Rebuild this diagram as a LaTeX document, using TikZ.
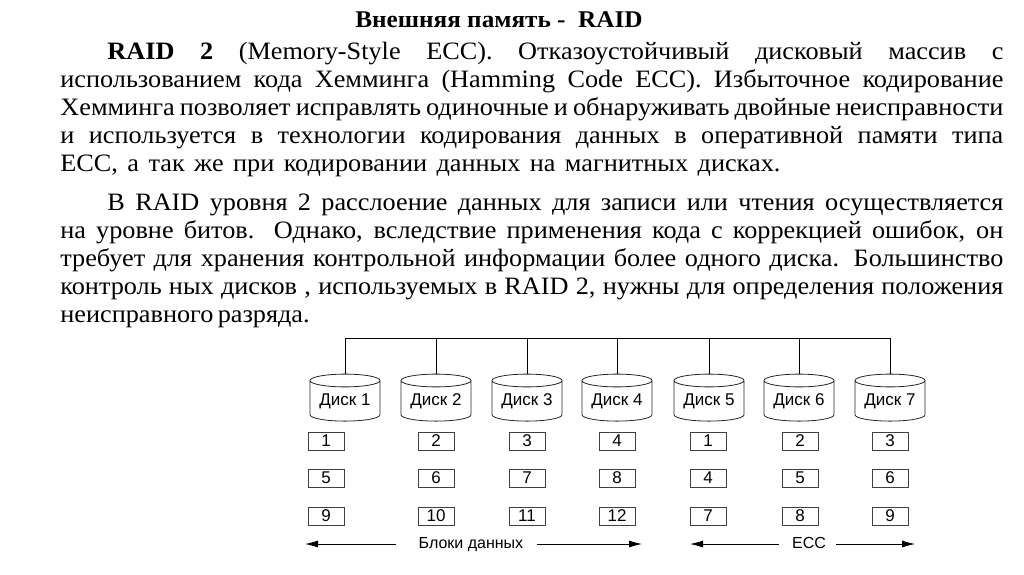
\documentclass[tikz,border=0pt]{standalone}
\usepackage{fontspec}
\setmainfont{Liberation Serif}[FakeStretch=1.05]
\newfontfamily\diagfont{Liberation Sans}
\usetikzlibrary{shapes.geometric,arrows.meta}

\tikzset{
  disk/.style={cylinder, shape border rotate=90, draw=black!85, aspect=0.25,
    minimum width=70pt, minimum height=47pt, inner sep=0pt,
    text height=12pt, text depth=3.5pt,
    font=\diagfont\fontsize{17}{17}\selectfont},
  blk/.style={draw=black!75, minimum width=36pt, minimum height=18pt, inner sep=0pt,
    text height=12pt, text depth=0.5pt,
    font=\diagfont\fontsize{17}{17}\selectfont},
  txtline/.style={anchor=base west, inner sep=0pt, font=\fontsize{25}{28}\selectfont},
  caption/.style={inner sep=0pt, text height=11.5pt, text depth=3.5pt,
    font=\diagfont\fontsize{16}{16}\selectfont},
  tip/.style={-{Latex[length=13pt,width=7pt]}},
}
\newcommand{\jline}[2]{\makebox[#1pt][s]{#2}}

\begin{document}
\begin{tikzpicture}[x=1pt, y=-1pt, line width=0.8pt]
    \useasboundingbox[fill=white] (0,0) rectangle (1024,574);

    % title
    \node[inner sep=0pt, anchor=base, font=\bfseries\fontsize{24}{28}\selectfont] (title) at (499,27) {Внешняя память -\ \ RAID};

    % first paragraph
    \node[txtline] (pa1) at (107,59) {\jline{896}{\textbf{RAID 2} (Memory-Style ECC). Отказоустойчивый дисковый массив с}};
    \node[txtline] (pa2) at (60,87) {\jline{943}{использованием кода Хемминга (Hamming Code ECC). Избыточное кодирование}};
    \node[txtline] (pa3) at (60,115) {\jline{943}{Хемминга позволяет исправлять одиночные и обнаруживать двойные неисправности}};
    \node[txtline] (pa4) at (60,143) {\jline{943}{и используется в технологии кодирования данных в оперативной памяти типа}};
    \node[txtline] (pa5) at (60,171) {\jline{720}{ECC, а так же при кодировании данных на магнитных дисках.}};

    % second paragraph
    \node[txtline] (pb1) at (107,210) {\jline{896}{В RAID уровня 2 расслоение данных для записи или чтения осуществляется}};
    \node[txtline] (pb2) at (60,238) {\jline{943}{на уровне битов. Однако, вследствие применения кода с коррекцией ошибок, он}};
    \node[txtline] (pb3) at (60,266) {\jline{943}{требует для хранения контрольной информации более одного диска. Большинство}};
    \node[txtline] (pb4) at (60,294) {\jline{943}{контроль ных дисков , используемых в RAID 2, нужны для определения положения}};
    \node[txtline] (pb5) at (60,322) {\jline{230}{неисправного разряда.}};

    % disks
    \foreach \n/\x in {1/345, 2/436, 3/527, 4/617, 5/709, 6/799, 7/890}
      \node[disk] (d\n) at (\x,401) {Диск \n};

    % bus
    \coordinate (bus) at (0,338);
    \draw (d1.top) |- (bus -| d7.top) -- (d7.top);
    \foreach \n in {2,...,6}
      \draw (d\n.top) -- (d\n.top |- bus);

    % data blocks
    \foreach \c/\x in {1/326, 2/436, 3/527, 4/617}
      \foreach \r/\y in {0/441, 1/478, 2/516}
        \pgfmathtruncatemacro{\k}{4*\r+\c}
        \node[blk] (b\k) at (\x,\y) {\k};

    % ECC blocks
    \foreach \c/\x in {1/708, 2/800, 3/890}
      \foreach \r/\y in {0/441, 1/478, 2/516}
        \pgfmathtruncatemacro{\k}{3*\r+\c}
        \node[blk] (e\k) at (\x,\y) {\k};

    % captions with arrows
    \node[caption] (lbldata) at (471,544) {Блоки данных};
    \node[caption] (lblecc) at (809,544) {ECC};
    \coordinate (dl) at (305,544);
    \coordinate (dr) at (642,544);
    \coordinate (el) at (690,544);
    \coordinate (er) at (915,544);
    \draw[tip, shorten <=22pt] (lbldata.west) -- (dl);
    \draw[tip, shorten <=13pt] (lbldata.east) -- (dr);
    \draw[tip, shorten <=13pt] (lblecc.west) -- (el);
    \draw[tip, shorten <=10pt] (lblecc.east) -- (er);
  \end{tikzpicture}
\end{document}
